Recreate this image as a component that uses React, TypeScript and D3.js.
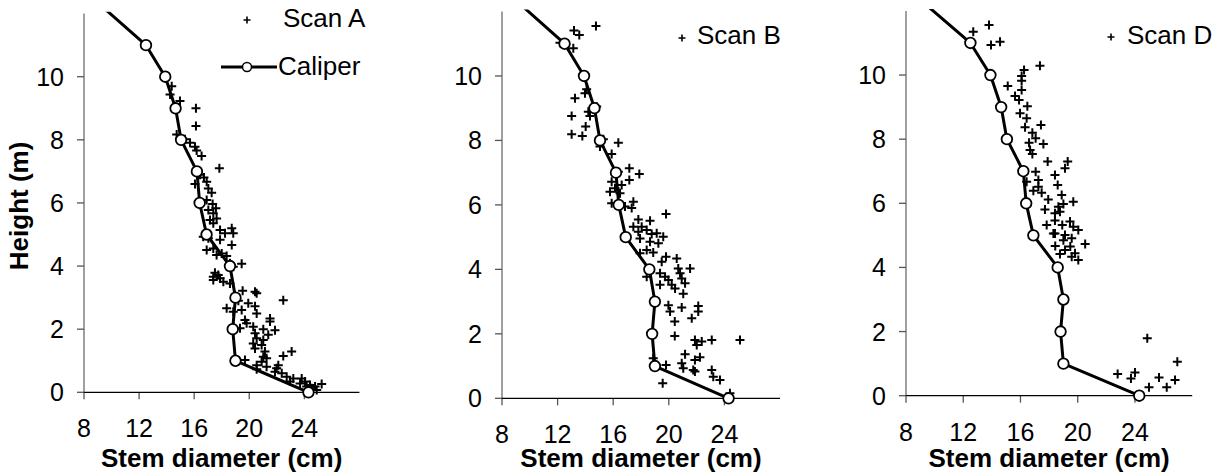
import React from "react";
import * as d3 from "d3";

// ---------- data ----------
const caliperHeight = [0, 1, 2, 3, 4, 5, 6, 7, 8, 9, 10, 11, 12.5];
const caliperDiameter = [24.3, 19.0, 18.8, 19.0, 18.6, 16.9, 16.4, 16.2, 15.05, 14.65, 13.9, 12.5, 8.6];

const xTicks = [8, 12, 16, 20, 24];
const yTicks = [0, 2, 4, 6, 8, 10];

const scanADiameter = [
  14.37, 14.25, 14.97, 16.13, 16.13, 14.73, 15.33, 15.7, 16.06, 16.18, 16.54, 17.83, 16.42, 16.71, 16.91, 16.06,
  17.03, 17.27, 16.91, 17.34, 17.58, 17.03, 17.39, 17.63, 17.15, 17.39, 17.88, 18.73, 18.24, 16.66, 18.84, 17.03,
  17.88, 18.73, 17.39, 16.91, 18.0, 18.36, 17.63, 18.6, 19.45, 18.84, 17.51, 17.75, 17.39, 17.88, 17.39, 18.12,
  18.6, 19.52, 20.42, 20.54, 22.47, 19.21, 19.93, 20.42, 18.36, 19.45, 18.84, 20.54, 19.69, 21.51, 21.51, 19.81,
  20.29, 19.33, 21.87, 21.02, 20.42, 21.38, 20.54, 21.02, 20.29, 20.9, 20.42, 21.14, 23.08, 22.47, 21.02, 21.26,
  19.69, 20.9, 20.54, 21.26, 22.11, 21.99, 20.54, 21.87, 22.36, 22.72, 23.2, 22.96, 23.81, 24.05, 23.69, 24.41,
  24.78, 25.26, 24.53, 24.17, 24.9,
];
const scanAHeight = [
  9.7, 9.44, 9.23, 9.0, 8.44, 8.17, 8.02, 7.91, 7.78, 7.66, 7.49, 7.1, 6.89, 6.81, 6.67, 6.6,
  6.46, 6.32, 6.09, 5.97, 5.83, 5.78, 5.67, 5.51, 5.46, 5.36, 5.14, 5.2, 5.04, 4.93, 5.04, 4.88,
  4.83, 4.67, 4.56, 4.51, 4.4, 4.32, 4.35, 4.09, 4.07, 3.98, 3.79, 3.72, 3.66, 3.61, 3.56, 3.5,
  3.45, 3.22, 3.19, 3.14, 2.92, 2.9, 2.82, 2.73, 2.66, 2.61, 2.55, 2.5, 2.29, 2.34, 2.24, 2.19,
  2.08, 2.03, 1.97, 2.0, 1.87, 1.82, 1.71, 1.66, 1.55, 1.5, 1.39, 1.29, 1.29, 1.15, 1.13, 1.08,
  1.02, 0.97, 0.86, 0.81, 0.86, 0.76, 0.73, 0.65, 0.6, 0.49, 0.44, 0.34, 0.44, 0.34, 0.28, 0.23,
  0.18, 0.26, 0.13, 0.18, 0.07,
];

const scanBDiameter = [
  13.18, 13.56, 14.76, 12.17, 13.13, 14.09, 13.97, 13.25, 14.81, 14.21, 14.33, 13.01, 14.02, 13.01, 13.78, 15.29,
  15.05, 16.37, 15.89, 17.16, 16.37, 17.88, 17.16, 15.89, 16.61, 16.13, 15.77, 16.49, 15.89, 17.45, 16.85, 17.33,
  19.8, 17.81, 18.65, 17.45, 18.05, 18.41, 19.13, 19.6, 17.81, 18.77, 17.93, 18.65, 19.25, 18.41, 18.88, 17.93,
  19.8, 20.57, 19.49, 21.53, 20.68, 18.41, 19.37, 19.73, 20.81, 19.97, 20.93, 19.37, 20.21, 21.17, 20.45, 21.04,
  19.97, 20.93, 22.12, 20.09, 22.12, 21.65, 20.43, 20.43, 21.88, 22.37, 23.09, 25.12, 22.01, 21.17, 22.24, 21.88,
  18.88, 19.8, 20.93, 21.04, 21.76, 21.88, 23.09, 23.2, 23.68, 19.56, 24.4,
];
const scanBHeight = [
  11.41, 11.27, 11.55, 11.03, 10.86, 9.59, 9.46, 9.31, 9.05, 8.89, 8.76, 8.76, 8.43, 8.19, 8.14, 8.04,
  7.81, 7.93, 7.58, 7.14, 7.03, 6.96, 6.77, 6.72, 6.62, 6.52, 6.41, 6.36, 6.05, 6.1, 5.95, 5.9,
  5.72, 5.55, 5.51, 5.32, 5.32, 5.22, 5.12, 5.01, 5.17, 5.1, 4.96, 4.86, 4.81, 4.6, 4.52, 4.5,
  4.39, 4.34, 4.24, 4.03, 4.03, 3.77, 3.88, 3.77, 3.88, 3.67, 3.72, 3.52, 3.52, 3.57, 3.41, 3.24,
  2.89, 2.82, 2.86, 2.69, 2.69, 2.48, 2.38, 1.93, 1.81, 1.76, 1.81, 1.81, 1.65, 1.37, 1.27, 1.19,
  1.24, 1.03, 1.09, 0.93, 0.88, 0.83, 0.88, 0.67, 0.57, 0.47, 0.16,
];

const scanDDiameter = [
  12.7, 13.8, 13.94, 14.57, 16.25, 17.36, 16.08, 16.08, 15.11, 16.08, 15.62, 15.9, 16.48, 15.97, 16.43, 16.32,
  17.43, 16.83, 17.06, 17.6, 16.6, 16.67, 16.83, 17.9, 19.3, 19.11, 17.06, 18.41, 17.25, 16.43, 18.6, 17.25,
  16.9, 17.48, 18.88, 17.94, 19.69, 18.65, 17.71, 19.0, 18.41, 18.76, 17.83, 18.41, 19.46, 18.92, 19.69, 20.04,
  18.41, 19.11, 18.3, 19.58, 19.0, 20.52, 18.43, 19.48, 19.11, 19.81, 18.76, 19.58, 20.04, 24.86, 26.96, 22.79,
  24.0, 23.72, 25.68, 26.8, 24.98, 26.22,
];
const scanDHeight = [
  11.35, 11.56, 10.94, 11.04, 10.16, 10.29, 9.97, 9.82, 9.66, 9.53, 9.35, 9.22, 9.03, 8.81, 8.65, 8.37,
  8.44, 8.2, 8.03, 7.85, 7.89, 7.66, 7.54, 7.3, 7.3, 7.09, 6.98, 6.88, 6.73, 6.67, 6.57, 6.52,
  6.39, 6.33, 6.26, 6.12, 6.05, 5.89, 5.81, 5.98, 5.69, 5.74, 5.32, 5.46, 5.43, 5.32, 5.27, 5.17,
  5.06, 5.01, 5.06, 4.91, 4.85, 4.73, 4.67, 4.65, 4.54, 4.44, 4.42, 4.33, 4.23, 1.79, 1.06, 0.68,
  0.72, 0.54, 0.57, 0.49, 0.26, 0.26,
];

// ---------- layout ----------
const FONT = "'Liberation Sans', Arial, sans-serif";

type Panel = {
  id: string;
  label: string;
  dia: number[];
  ht: number[];
  xRange: [number, number];
  yRange: [number, number];
  legendPlus: [number, number];
  legendText: [number, number];
  caliperLegend?: boolean;
  yTitle?: boolean;
};

const panels: Panel[] = [
  {
    id: "A", label: "Scan A", dia: scanADiameter, ht: scanAHeight,
    xRange: [84, 359.4], yRange: [392.3, 13.6],
    legendPlus: [247, 20], legendText: [283, 27], caliperLegend: true, yTitle: true,
  },
  {
    id: "B", label: "Scan B", dia: scanBDiameter, ht: scanBHeight,
    xRange: [502, 780], yRange: [398.3, 11.5],
    legendPlus: [682, 38], legendText: [697, 44],
  },
  {
    id: "D", label: "Scan D", dia: scanDDiameter, ht: scanDHeight,
    xRange: [906, 1192.2], yRange: [395.7, 10.9],
    legendPlus: [1111, 37], legendText: [1127, 43.5],
  },
];

const plusPath = (s: number) => `M${-s},0H${s}M0,${-s}V${s}`;

function PanelChart({ p }: { p: Panel }) {
  const x = d3.scaleLinear().domain([8, 28]).range(p.xRange);
  const y = d3.scaleLinear().domain([0, 12]).range(p.yRange);
  const line = d3
    .line<number>()
    .x((_, i) => x(caliperDiameter[i]))
    .y((h) => y(h));
  const clipId = `clip-${p.id}`;
  const cx = (p.xRange[0] + p.xRange[1]) / 2;
  const calPts = caliperHeight.map((h, i) => ({ h, d: caliperDiameter[i] })).filter((c) => c.h <= 12);
  return (
    <g>
      <defs>
        <clipPath id={clipId}>
          <rect x={x(8) - 20} y={y(12.06)} width={x(28) - x(8) + 40} height={y(0) - y(12.06) + 20} />
        </clipPath>
      </defs>
      {/* y axis */}
      <line x1={x(8)} x2={x(8)} y1={y(0)} y2={y(12)} stroke="#808080" strokeWidth={1.5} />
      {yTicks.map((t) => (
        <g key={`yt${t}`}>
          <line x1={x(8) - 7} x2={x(8)} y1={y(t)} y2={y(t)} stroke="#555" strokeWidth={1.3} />
          <text x={x(8) - 20} y={y(t)} dy="0.36em" textAnchor="end" fontSize={25} fontFamily={FONT} fill="#000">
            {t}
          </text>
        </g>
      ))}
      {/* x axis */}
      {xTicks.map((t) => (
        <g key={`xt${t}`}>
          <line x1={x(t)} x2={x(t)} y1={y(0)} y2={y(0) + 7} stroke="#555" strokeWidth={1.3} />
          <text x={x(t)} y={y(0) + 45} textAnchor="middle" fontSize={25} fontFamily={FONT} fill="#000">
            {t}
          </text>
        </g>
      ))}
      <line x1={x(8)} x2={x(28)} y1={y(0)} y2={y(0)} stroke="#000" strokeWidth={1.3} />
      <text x={cx} y={467} textAnchor="middle" fontSize={26} fontWeight="bold" fontFamily={FONT} fill="#000">
        Stem diameter (cm)
      </text>
      {p.yTitle && (
        <text
          transform={`translate(28,${(y(0) + y(12)) / 2 + 3}) rotate(-90)`}
          textAnchor="middle"
          fontSize={26}
          fontWeight="bold"
          fontFamily={FONT}
          fill="#000"
        >
          Height (m)
        </text>
      )}
      {/* scan points */}
      <g stroke="#000" strokeWidth={2} fill="none">
        {p.dia.map((d, i) => (
          <path key={i} d={plusPath(4.5)} transform={`translate(${x(d)},${y(p.ht[i])})`} />
        ))}
      </g>
      {/* caliper */}
      <g clipPath={`url(#${clipId})`}>
        <path d={line(caliperHeight) || ""} fill="none" stroke="#000" strokeWidth={3} strokeLinejoin="round" />
      </g>
      {calPts.map((c, i) => (
        <circle key={i} cx={x(c.d)} cy={y(c.h)} r={5.3} fill="#fff" stroke="#000" strokeWidth={1.8} />
      ))}
      {/* legend */}
      <path d={plusPath(3.5)} transform={`translate(${p.legendPlus[0]},${p.legendPlus[1]})`} stroke="#000" strokeWidth={1.6} />
      <text x={p.legendText[0]} y={p.legendText[1]} fontSize={26} fontFamily={FONT} fill="#000">
        {p.label}
      </text>
      {p.caliperLegend && (
        <g>
          <line x1={221} x2={277} y1={67} y2={67} stroke="#000" strokeWidth={3} />
          <circle cx={247} cy={67} r={4.5} fill="#fff" stroke="#000" strokeWidth={1.5} />
          <text x={278} y={75} fontSize={26} fontFamily={FONT} fill="#000">
            Caliper
          </text>
        </g>
      )}
    </g>
  );
}

export default function App() {
  return (
    <svg
      width={1225}
      height={476}
      viewBox="0 0 1225 476"
      style={{ position: "absolute", left: 0, top: 0, background: "#fff" }}
    >
      <rect width={1225} height={476} fill="#fff" />
      {panels.map((p) => (
        <PanelChart key={p.id} p={p} />
      ))}
    </svg>
  );
}
